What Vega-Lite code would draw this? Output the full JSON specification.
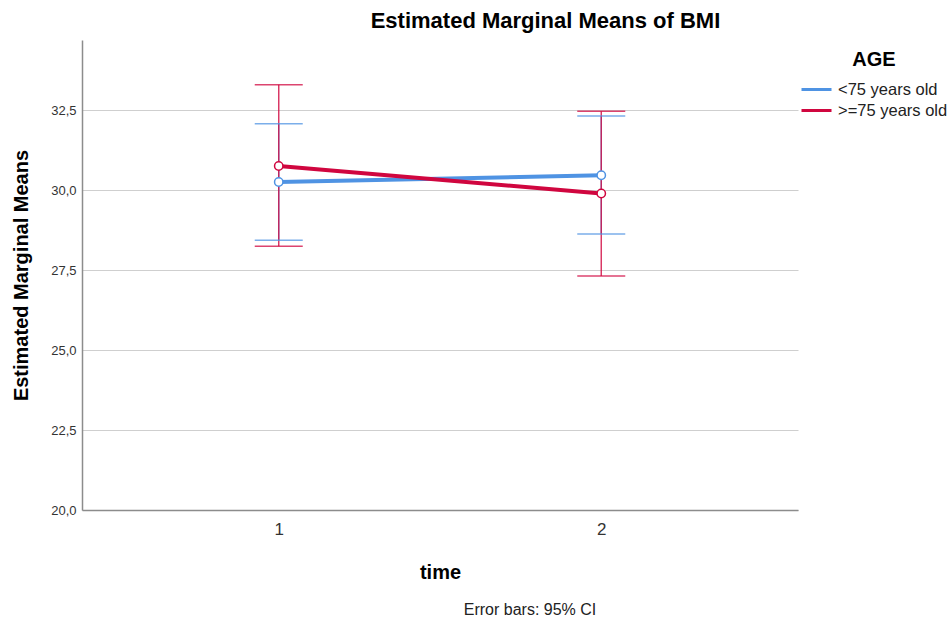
{
  "$schema": "https://vega.github.io/schema/vega-lite/v6.json",
  "width": 716,
  "height": 470,
  "autosize": "none",
  "padding": {"left": 82, "top": 40, "right": 153, "bottom": 109},
  "background": "white",
  "config": {
    "view": {"stroke": null},
    "font": "Liberation Sans",
    "axis": {
      "labelFont": "Liberation Sans",
      "titleFont": "Liberation Sans",
      "ticks": false,
      "domainColor": "#8c8c8c",
      "domainWidth": 1.5,
      "labelColor": "#333333",
      "titleColor": "#000000",
      "titleFontWeight": "bold",
      "titleFontSize": 20
    },
    "legend": {
      "orient": "right",
      "offset": -8,
      "padding": 10,
      "titleFont": "Liberation Sans",
      "titleFontSize": 20,
      "titleFontWeight": "bold",
      "titleColor": "#000000",
      "titleAnchor": "middle",
      "titlePadding": 9,
      "labelFont": "Liberation Sans",
      "labelFontSize": 16.5,
      "labelColor": "#222222",
      "symbolType": "stroke",
      "symbolSize": 900,
      "symbolStrokeWidth": 3,
      "symbolOpacity": 1,
      "labelOffset": 5,
      "clipHeight": 21,
      "rowPadding": 0
    }
  },
  "title": {
    "text": "Error bars: 95% CI",
    "orient": "bottom",
    "frame": "group",
    "anchor": "middle",
    "dx": 90,
    "offset": 20,
    "fontSize": 16,
    "fontWeight": "normal",
    "font": "Liberation Sans",
    "color": "#222222"
  },
  "data": {
    "values": [
      {"time": "1", "age": "<75 years old", "mean": 30.26, "lower": 28.44, "upper": 32.08},
      {"time": "2", "age": "<75 years old", "mean": 30.47, "lower": 28.63, "upper": 32.32},
      {"time": "1", "age": ">=75 years old", "mean": 30.76, "lower": 28.25, "upper": 33.30},
      {"time": "2", "age": ">=75 years old", "mean": 29.90, "lower": 27.32, "upper": 32.47}
    ]
  },
  "resolve": {"axis": {"x": "independent"}},
  "layer": [
    {
      "encoding": {
        "x": {
          "field": "time", "type": "ordinal",
          "scale": {"type": "point", "padding": 0.61},
          "axis": {"orient": "bottom", "title": "time", "labelFontSize": 17, "labelPadding": 11, "titlePadding": 25, "labelAngle": 0, "grid": false}
        },
        "color": {
          "field": "age", "type": "nominal",
          "scale": {"domain": ["<75 years old", ">=75 years old"], "range": ["#4f93e3", "#d0063f"]},
          "legend": {"title": "AGE"}
        }
      },
      "layer": [
        {
          "mark": {"type": "rule", "strokeWidth": 1.5, "opacity": 0.8},
          "encoding": {
            "y": {
              "field": "lower", "type": "quantitative",
              "scale": {"domain": [20, 34.7], "nice": false, "zero": false},
              "axis": {
                "title": "Estimated Marginal Means",
                "values": [20, 22.5, 25, 27.5, 30, 32.5],
                "labelExpr": "replace(format(datum.value, '.1f'), '.', ',')",
                "labelFontSize": 13, "labelPadding": 6, "titlePadding": 19,
                "grid": true, "gridColor": "#cfcfcf", "gridWidth": 1
              }
            },
            "y2": {"field": "upper"}
          }
        },
        {
          "mark": {"type": "rule", "strokeWidth": 1.5, "opacity": 0.75, "xOffset": -24, "x2Offset": 24},
          "encoding": {
            "x2": {"field": "time"},
            "y": {
              "field": "upper", "type": "quantitative",
              "scale": {"domain": [20, 34.7], "nice": false, "zero": false},
              "axis": {
                "title": "Estimated Marginal Means",
                "values": [20, 22.5, 25, 27.5, 30, 32.5],
                "labelExpr": "replace(format(datum.value, '.1f'), '.', ',')",
                "labelFontSize": 13, "labelPadding": 6, "titlePadding": 19,
                "grid": true, "gridColor": "#cfcfcf", "gridWidth": 1
              }
            }
          }
        },
        {
          "mark": {"type": "rule", "strokeWidth": 1.5, "opacity": 0.75, "xOffset": -24, "x2Offset": 24},
          "encoding": {
            "x2": {"field": "time"},
            "y": {
              "field": "lower", "type": "quantitative",
              "scale": {"domain": [20, 34.7], "nice": false, "zero": false},
              "axis": {
                "title": "Estimated Marginal Means",
                "values": [20, 22.5, 25, 27.5, 30, 32.5],
                "labelExpr": "replace(format(datum.value, '.1f'), '.', ',')",
                "labelFontSize": 13, "labelPadding": 6, "titlePadding": 19,
                "grid": true, "gridColor": "#cfcfcf", "gridWidth": 1
              }
            }
          }
        }
      ]
    },
    {
      "encoding": {
        "x": {
          "field": "time", "type": "ordinal",
          "scale": {"type": "point", "padding": 0.61},
          "axis": {
            "orient": "top", "title": "Estimated Marginal Means of BMI",
            "labels": false, "ticks": false, "domain": false, "grid": false,
            "titleFontSize": 22, "titlePadding": 8, "titleX": 463
          }
        },
        "y": {
          "field": "mean", "type": "quantitative",
          "scale": {"domain": [20, 34.7], "nice": false, "zero": false},
          "axis": {
            "title": "Estimated Marginal Means",
            "values": [20, 22.5, 25, 27.5, 30, 32.5],
            "labelExpr": "replace(format(datum.value, '.1f'), '.', ',')",
            "labelFontSize": 13, "labelPadding": 6, "titlePadding": 19,
            "grid": true, "gridColor": "#cfcfcf", "gridWidth": 1
          }
        },
        "color": {
          "field": "age", "type": "nominal",
          "scale": {"domain": ["<75 years old", ">=75 years old"], "range": ["#4f93e3", "#d0063f"]},
          "legend": {"title": "AGE"}
        }
      },
      "layer": [
        {"mark": {"type": "line", "strokeWidth": 4}},
        {"mark": {"type": "point", "shape": "circle", "filled": false, "fill": "white", "strokeWidth": 1.5, "size": 70, "opacity": 1}}
      ]
    }
  ]
}
